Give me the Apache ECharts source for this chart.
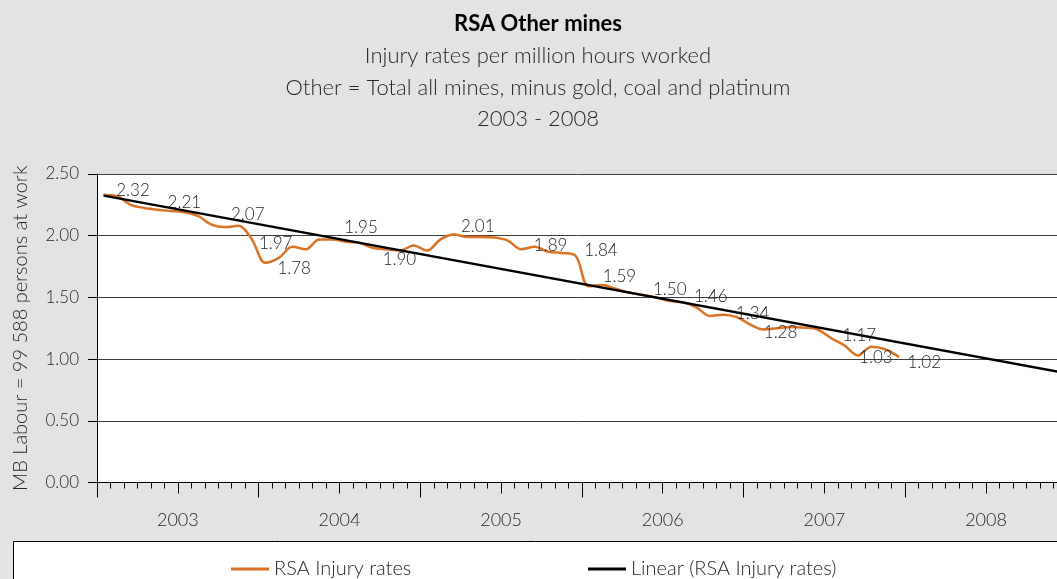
<!DOCTYPE html>
<html><head><meta charset="utf-8">
<script src="https://cdn.jsdelivr.net/npm/echarts@6/dist/echarts.min.js"></script>
<style>html,body{margin:0;padding:0;background:#e3e4e2;}#c{width:1057px;height:579px;}</style>
</head><body><div id="c"></div>
<script>
// ---- data ----
const yearLabels = ['2003', '2004', '2005', '2006', '2007', '2008'];
// monthly injury rates, Jan 2003 .. Dec 2007
const injuryRates = [
  2.33, 2.32, 2.25, 2.225, 2.21, 2.20, 2.19, 2.16, 2.09, 2.07, 2.08, 1.97,
  1.78, 1.82, 1.91, 1.89, 1.97, 1.97, 1.95, 1.94, 1.90, 1.89, 1.88, 1.92,
  1.88, 1.97, 2.01, 1.99, 1.99, 1.985, 1.96, 1.89, 1.91, 1.87, 1.86, 1.84,
  1.59, 1.60, 1.57, 1.54, 1.52, 1.50, 1.47, 1.46, 1.42, 1.35, 1.36, 1.34,
  1.28, 1.24, 1.25, 1.26, 1.255, 1.24, 1.17, 1.11, 1.03, 1.10, 1.08, 1.02
];
const labelledMonths = [1, 4, 9, 11, 12, 18, 20, 26, 31, 35, 36, 41, 43, 47, 48, 54, 56, 59];
const seriesNames = ['RSA Injury rates', 'Linear (RSA Injury rates)'];
const titleLines = ['RSA Other mines', 'Injury rates per million hours worked',
  'Other = Total all mines, minus gold, coal and platinum', '2003 - 2008'];
const yAxisTitle = 'MB Labour = 99 588 persons at work';

// ---- layout (label placement) ----
const labelOffsets = [[-2,-6],[9,-7],[5,-13],[6,4.5],[11,6],[-3,-14],[8.5,11],[6,-7.5],[11.5,-4],
  [8,-5],[13,-10],[-4,-8],[10,-6],[-2,-4],[12.5,8],[10.5,-2.5],[0,2],[8,6]];

const FONT = 'Lato';
const TXT = '#262626';
const ORANGE = '#db7325';

// linear trend (least squares), like the spreadsheet trendline
const n = injuryRates.length;
let sx = 0, sy = 0, sxx = 0, sxy = 0;
injuryRates.forEach((v, i) => { sx += i; sy += v; sxx += i * i; sxy += i * v; });
const slope = (n * sxy - sx * sy) / (n * sxx - sx * sx);
const icept = (sy - slope * sx) / n;
const totalMonths = yearLabels.length * 12;
const trendData = [[0.5, icept], [totalMonths, icept + slope * (totalMonths - 0.5)]];

const rateData = injuryRates.map((v, i) => {
  const k = labelledMonths.indexOf(i);
  const item = { value: [i + 0.5, v] };
  if (k >= 0) {
    item.label = { show: true, position: 'right', distance: 0, offset: labelOffsets[k] };
  }
  return item;
});

const chart = echarts.init(document.getElementById('c'));
const axisCommon = {
  type: 'value', min: 0, max: totalMonths, gridIndex: 0, position: 'bottom',
  splitLine: { show: false }
};
const txt17 = { fontSize: 17, color: TXT, fontFamily: FONT, fontWeight: 300 };
const txt20 = { fontSize: 20, color: TXT, fontFamily: FONT, fontWeight: 300 };
chart.setOption({
  backgroundColor: '#e3e4e2',
  animation: false,
  textStyle: { fontFamily: FONT, fontWeight: 300 },
  graphic: [
    { type: 'rect', z: 0, shape: { x: 13.5, y: 541.5, width: 1100, height: 100 },
      style: { fill: '#fff', stroke: '#000', lineWidth: 1 } },
    ...titleLines.map((t, i) => ({
      type: 'text', z: 10, x: 538, y: [24, 56, 88, 119][i],
      style: { text: t, fill: i === 0 ? '#000' : TXT, font: (i === 0 ? 'bold ' : '300 ') + '22px ' + FONT,
        textAlign: 'center', textVerticalAlign: 'middle' }
    }))
  ],
  grid: { left: 97, top: 174, bottom: 96.5, right: 1057 - 97 - totalMonths * 13.47,
    show: true, backgroundColor: '#fff', borderWidth: 0, containLabel: false, outerBoundsMode: 'none' },
  legend: [
    { data: [{ name: seriesNames[0], icon: 'rect' }], left: 226, top: 554, itemWidth: 38, itemHeight: 3,
      textStyle: txt20 },
    { data: [{ name: seriesNames[1], icon: 'rect' }], left: 583, top: 554, itemWidth: 38, itemHeight: 3,
      textStyle: txt20 }
  ],
  xAxis: [
    Object.assign({}, axisCommon, {
      interval: 6,
      axisLine: { show: true, lineStyle: { color: '#000', width: 1 } },
      axisTick: { show: true, length: 11, lineStyle: { color: '#000' } },
      minorTick: { show: true, splitNumber: 6, length: 6, lineStyle: { color: '#000' } },
      axisLabel: Object.assign({}, txt17, { show: true, margin: 29, fontSize: 18,
        formatter: v => (v % 12 === 6 ? yearLabels[(v - 6) / 12] : '') })
    }),
    Object.assign({}, axisCommon, {
      interval: 12,
      axisLine: { show: false },
      axisTick: { show: true, length: 15, lineStyle: { color: '#000' } },
      axisLabel: { show: false }
    })
  ],
  yAxis: {
    type: 'value', min: 0, max: 2.5, interval: 0.5,
    name: yAxisTitle, nameLocation: 'middle', nameGap: 66, nameRotate: 90, nameMoveOverlap: false,
    nameTextStyle: txt20,
    axisLine: { show: true, lineStyle: { color: '#000' } },
    axisTick: { show: true, length: 9, lineStyle: { color: '#000' } },
    axisLabel: Object.assign({ margin: 18, formatter: v => v.toFixed(2) }, txt17),
    splitLine: { show: true, lineStyle: { color: '#3c3c3c', width: 1 } }
  },
  series: [
    { name: seriesNames[0], type: 'line', xAxisIndex: 0, data: rateData, smooth: 0.35,
      symbol: 'circle', symbolSize: 2, showSymbol: true, showAllSymbol: true,
      itemStyle: { color: ORANGE }, lineStyle: { color: ORANGE, width: 2.5 },
      label: Object.assign({ show: false, formatter: p => p.value[1].toFixed(2) }, txt17),
      z: 2 },
    { name: seriesNames[1], type: 'line', xAxisIndex: 0, data: trendData, symbol: 'none',
      itemStyle: { color: '#000' }, lineStyle: { color: '#000', width: 2.5 }, z: 3 }
  ]
});
</script>
</body></html>
